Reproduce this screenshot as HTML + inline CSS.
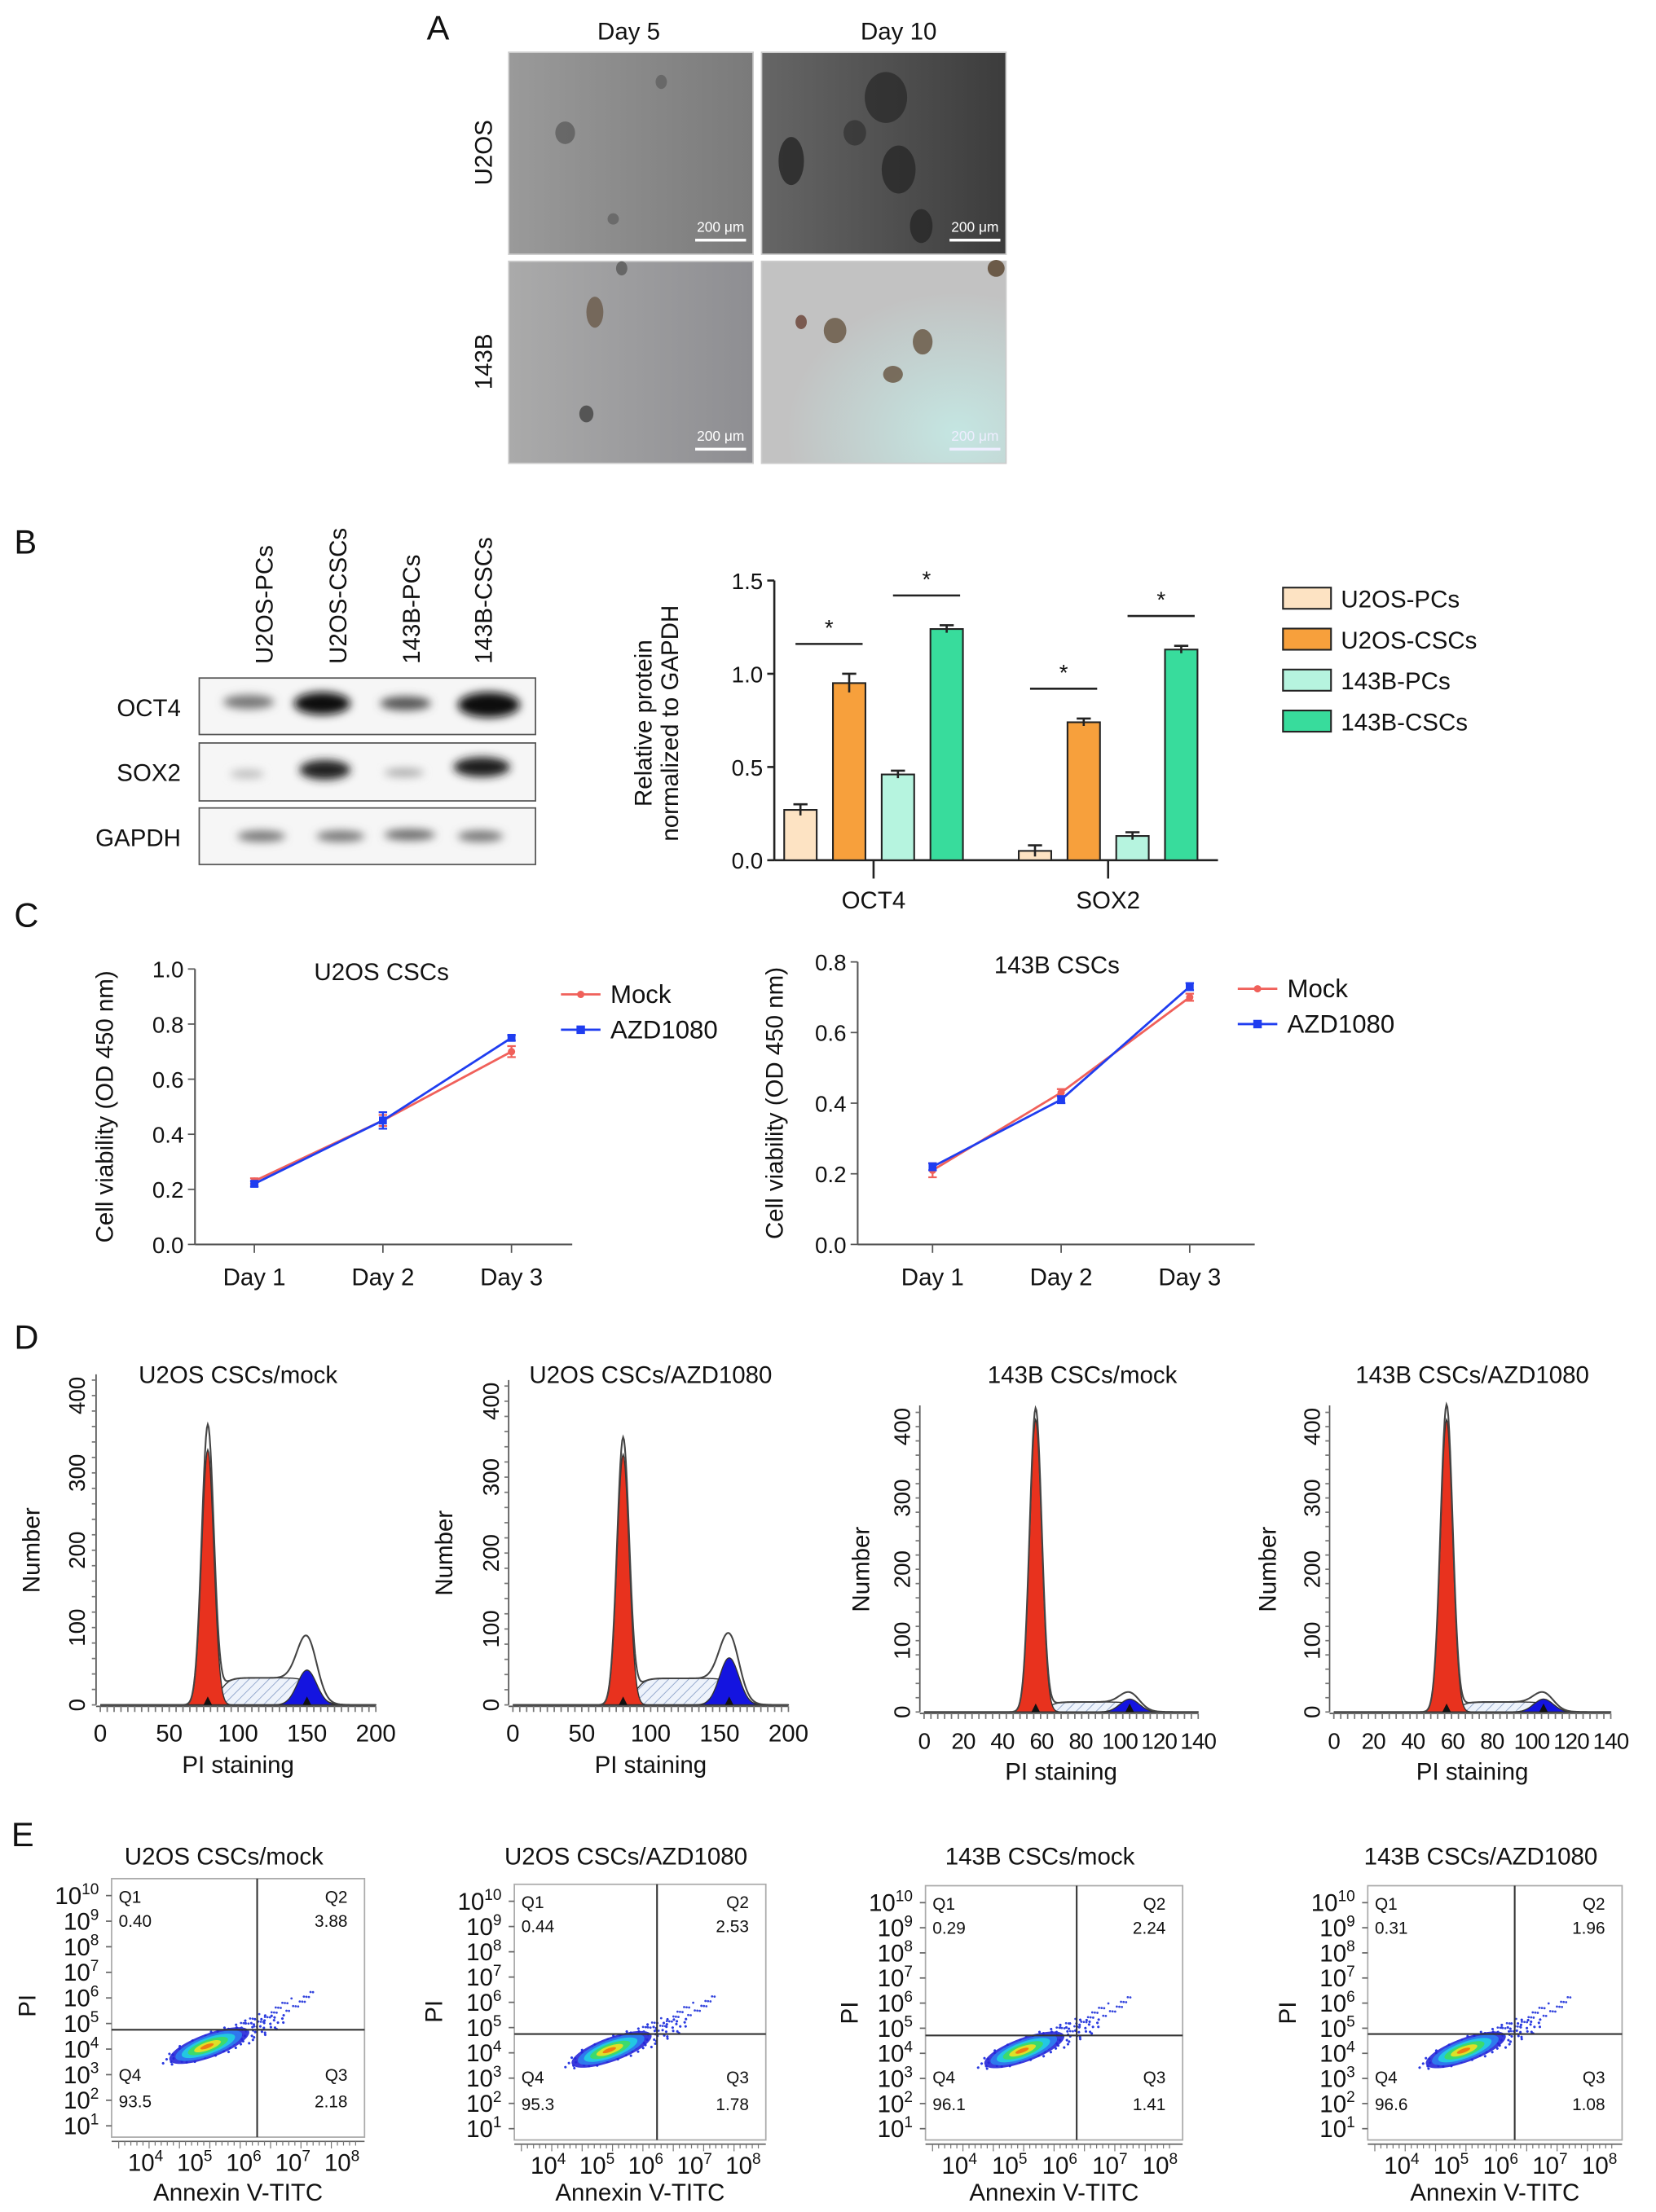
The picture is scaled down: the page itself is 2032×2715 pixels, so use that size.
<!DOCTYPE html>
<html><head><meta charset="utf-8"><style>
html,body{margin:0;padding:0;background:#fff}
svg{display:block}
text{font-family:"Liberation Sans",Arial,sans-serif;fill:#111}
</style></head><body>
<svg id="fig" xmlns="http://www.w3.org/2000/svg" width="2032" height="2715" viewBox="0 0 1172 1566" preserveAspectRatio="none">
<defs>
<linearGradient id="gA1" x1="0" y1="0" x2="1" y2="0"><stop offset="0" stop-color="#9a9a9a"/><stop offset="1" stop-color="#7a7a7a"/></linearGradient>
<linearGradient id="gA2" x1="0" y1="0" x2="1" y2="0"><stop offset="0" stop-color="#666"/><stop offset="1" stop-color="#3c3c3c"/></linearGradient>
<linearGradient id="gA3" x1="0" y1="0" x2="1" y2="0"><stop offset="0" stop-color="#aaa"/><stop offset="1" stop-color="#8e8e92"/></linearGradient>
<radialGradient id="gA4" cx="0.8" cy="0.85" r="0.7"><stop offset="0" stop-color="#c4e6e2"/><stop offset="1" stop-color="#c2c2c2"/></radialGradient>
<pattern id="hatch" width="5" height="5" patternUnits="userSpaceOnUse" patternTransform="rotate(45)"><rect width="5" height="5" fill="#eef3fb"/><line x1="0" y1="0" x2="0" y2="5" stroke="#8aa0c8" stroke-width="1"/></pattern>
<filter id="blur1"><feGaussianBlur stdDeviation="3"/></filter>
</defs>

<!-- Panel A -->
<text x="302" y="28" font-size="24">A</text>
<text x="445" y="28" font-size="17" text-anchor="middle">Day 5</text>
<text x="636" y="28" font-size="17" text-anchor="middle">Day 10</text>
<text transform="translate(348,108) rotate(-90)" font-size="17" text-anchor="middle">U2OS</text>
<text transform="translate(348,256) rotate(-90)" font-size="17" text-anchor="middle">143B</text>
<g>
<rect x="360" y="37" width="173" height="143" fill="url(#gA1)" stroke="#ccc"/>
<ellipse cx="400" cy="94" rx="7" ry="8" fill="#555" opacity="0.7"/><ellipse cx="468" cy="58" rx="4" ry="5" fill="#555" opacity="0.6"/><circle cx="434" cy="155" r="4" fill="#555" opacity="0.6"/>
<text x="510" y="164" font-size="10" text-anchor="middle" style="fill:#fff">200 μm</text><rect x="492" y="169" width="36" height="2" fill="#fff"/>
</g>
<g>
<rect x="539" y="37" width="173" height="143" fill="url(#gA2)" stroke="#ccc"/>
<ellipse cx="627" cy="69" rx="15" ry="18" fill="#2a2a2a" opacity="0.75"/><ellipse cx="560" cy="114" rx="9" ry="17" fill="#222" opacity="0.75"/><ellipse cx="636" cy="120" rx="12" ry="17" fill="#252525" opacity="0.75"/><ellipse cx="605" cy="94" rx="8" ry="9" fill="#303030" opacity="0.7"/><ellipse cx="652" cy="160" rx="8" ry="12" fill="#222" opacity="0.7"/>
<text x="690" y="164" font-size="10" text-anchor="middle" style="fill:#fff">200 μm</text><rect x="672" y="169" width="36" height="2" fill="#fff"/>
</g>
<g>
<rect x="360" y="185" width="173" height="143" fill="url(#gA3)" stroke="#ccc"/>
<ellipse cx="421" cy="221" rx="6" ry="11" fill="#6a5a4a" opacity="0.8"/><ellipse cx="440" cy="190" rx="4" ry="5" fill="#666"/><ellipse cx="415" cy="293" rx="5" ry="6" fill="#555"/>
<text x="510" y="312" font-size="10" text-anchor="middle" style="fill:#fff">200 μm</text><rect x="492" y="317" width="36" height="2" fill="#fff"/>
</g>
<g>
<rect x="539" y="185" width="173" height="143" fill="url(#gA4)" stroke="#ccc"/>
<ellipse cx="591" cy="234" rx="8" ry="9" fill="#6b5a48" opacity="0.85"/><ellipse cx="653" cy="242" rx="7" ry="9" fill="#6b5a48" opacity="0.85"/><ellipse cx="632" cy="265" rx="7" ry="6" fill="#6b5a48" opacity="0.85"/><ellipse cx="567" cy="228" rx="4" ry="5" fill="#7a5a50"/><ellipse cx="705" cy="190" rx="6" ry="6" fill="#6b5a48"/>
<text x="690" y="312" font-size="10" text-anchor="middle" style="fill:#eef">200 μm</text><rect x="672" y="317" width="36" height="2" fill="#eef"/>
</g>

<!-- Panel B blot -->
<text x="10" y="392" font-size="24">B</text>
<g font-size="17">
<text transform="translate(193,470) rotate(-90)">U2OS-PCs</text>
<text transform="translate(245,470) rotate(-90)">U2OS-CSCs</text>
<text transform="translate(297,470) rotate(-90)">143B-PCs</text>
<text transform="translate(348,470) rotate(-90)">143B-CSCs</text>
</g>
<g>
<text x="128" y="507" font-size="17" text-anchor="end">OCT4</text>
<text x="128" y="553" font-size="17" text-anchor="end">SOX2</text>
<text x="128" y="599" font-size="17" text-anchor="end">GAPDH</text>
<rect x="141" y="480" width="238" height="40" fill="#f6f6f6" stroke="#555"/>
<rect x="141" y="526" width="238" height="41" fill="#f6f6f6" stroke="#555"/>
<rect x="141" y="572" width="238" height="40" fill="#f6f6f6" stroke="#555"/>
<g filter="url(#blur1)">
<ellipse cx="176" cy="497" rx="18" ry="5" fill="#777"/><ellipse cx="228" cy="498" rx="20" ry="8" fill="#111"/><ellipse cx="287" cy="498" rx="18" ry="5" fill="#555"/><ellipse cx="346" cy="499" rx="22" ry="9" fill="#111"/>
<ellipse cx="175" cy="548" rx="12" ry="3" fill="#bbb"/><ellipse cx="230" cy="545" rx="18" ry="7" fill="#222"/><ellipse cx="286" cy="547" rx="14" ry="3" fill="#aaa"/><ellipse cx="341" cy="543" rx="20" ry="7" fill="#1a1a1a"/>
<ellipse cx="185" cy="592" rx="17" ry="4" fill="#777"/><ellipse cx="241" cy="592" rx="17" ry="4" fill="#777"/><ellipse cx="290" cy="591" rx="18" ry="4" fill="#6a6a6a"/><ellipse cx="340" cy="592" rx="16" ry="4" fill="#777"/>
</g>
</g>

<g id="barChart"></g>
<text x="10" y="656" font-size="24">C</text>
<g id="lineLeft"></g>
<g id="lineRight"></g>
<text x="10" y="955" font-size="24">D</text>
<g id="histos"></g>
<text x="8" y="1307" font-size="24">E</text>
<g id="scatters"></g>
</svg>

<script>
// ---------- Panel B data ----------
const barCategories = ['OCT4', 'SOX2'];
const barSeriesNames = ['U2OS-PCs', 'U2OS-CSCs', '143B-PCs', '143B-CSCs'];
const barValuesOCT4 = [0.27, 0.95, 0.46, 1.24];
const barValuesSOX2 = [0.05, 0.74, 0.13, 1.13];
const barErrOCT4 = [0.03, 0.05, 0.02, 0.02];
const barErrSOX2 = [0.03, 0.02, 0.02, 0.02];
const barTicks = [0, 0.5, 1.0, 1.5];
// ---------- Panel C data ----------
const days = ['Day 1', 'Day 2', 'Day 3'];
const u2osMock = [0.23, 0.45, 0.70];
const u2osAZD = [0.22, 0.45, 0.75];
const u2osMockErr = [0.01, 0.02, 0.02];
const u2osAZDErr = [0.01, 0.03, 0.01];
const u2osTicks = [0, 0.2, 0.4, 0.6, 0.8, 1.0];
const b143Mock = [0.21, 0.43, 0.70];
const b143AZD = [0.22, 0.41, 0.73];
const b143MockErr = [0.02, 0.01, 0.01];
const b143AZDErr = [0.01, 0.01, 0.01];
const b143Ticks = [0, 0.2, 0.4, 0.6, 0.8];
// ---------- Panel D data ----------
const histTitles = ['U2OS CSCs/mock', 'U2OS CSCs/AZD1080', '143B CSCs/mock', '143B CSCs/AZD1080'];
const histG1Pos = [78, 80, 57, 57];
const histG1Height = [330, 330, 410, 410];
const histG1Peak = [360, 350, 425, 430];
const histG2Pos = [150, 157, 105, 106];
const histG2Height = [45, 62, 18, 18];
const histG2Peak = [95, 100, 30, 30];
const histSHeight = [35, 35, 14, 14];
const histXMax = [200, 200, 140, 140];
const histXTicks200 = [0, 50, 100, 150, 200];
const histXTicks140 = [0, 20, 40, 60, 80, 100, 120, 140];
const histYTicks = [0, 100, 200, 300, 400];
// ---------- Panel E data ----------
const scatTitles = ['U2OS CSCs/mock', 'U2OS CSCs/AZD1080', '143B CSCs/mock', '143B CSCs/AZD1080'];
const q1Vals = ['0.40', '0.44', '0.29', '0.31'];
const q2Vals = ['3.88', '2.53', '2.24', '1.96'];
const q3Vals = ['2.18', '1.78', '1.41', '1.08'];
const q4Vals = ['93.5', '95.3', '96.1', '96.6'];
const logTicksY = [1, 2, 3, 4, 5, 6, 7, 8, 9, 10];
const logTicksX = [4, 5, 6, 7, 8];

const NS = 'http://www.w3.org/2000/svg';
function mk(tag, attrs, parent) {
  const e = document.createElementNS(NS, tag);
  for (const k in attrs) e.setAttribute(k, attrs[k]);
  parent.appendChild(e);
  return e;
}
function txt(s, attrs, parent) { const t = mk('text', attrs, parent); t.textContent = s; return t; }

// ===== Bar chart =====
(function () {
  const g = document.getElementById('barChart');
  const ax = 548, y0 = 609, y15 = 411;
  const ys = v => y0 - (v / 1.5) * (y0 - y15);
  const colors = ['#fde3c3', '#f7a03c', '#b6f4df', '#38dc9c'];
  const groupStart = [555, 721];
  const step = 34.5, bw = 23;
  const a = mk('line', { x1: ax, y1: y15, x2: ax, y2: y0, stroke: '#222', 'stroke-width': 1.5 }, g);
  
  
  const xa = mk('line', { x1: ax, y1: y0, x2: 862, y2: y0, stroke: '#222', 'stroke-width': 1.5 }, g);
  
  
  barTicks.forEach(t => {
    mk('line', { x1: ax - 5, y1: ys(t), x2: ax, y2: ys(t), stroke: '#222', 'stroke-width': 1.5 }, g);
    const tl = txt(t.toFixed(1), { x: ax - 8, y: ys(t) + 6, 'font-size': 16, 'text-anchor': 'end' }, g);
    
    
  });
  const yl = txt('Relative protein', { transform: 'translate(461,512) rotate(-90)', 'font-size': 17, 'text-anchor': 'middle' }, g);
  
  
  const yl2 = txt('normalized to GAPDH', { transform: 'translate(480,512) rotate(-90)', 'font-size': 17, 'text-anchor': 'middle' }, g);
  
  
  const vals = [barValuesOCT4, barValuesSOX2], errs = [barErrOCT4, barErrSOX2];
  barCategories.forEach((c, ci) => {
    const cx = groupStart[ci] + 1.5 * step + bw / 2;
    mk('line', { x1: cx, y1: y0, x2: cx, y2: y0 + 13, stroke: '#222', 'stroke-width': 1.5 }, g);
    const cl = txt(c, { x: cx, y: 643, 'font-size': 17, 'text-anchor': 'middle' }, g);
    
    
    vals[ci].forEach((v, si) => {
      const x = groupStart[ci] + si * step;
      const r = mk('rect', { x: x, y: ys(v), width: bw, height: y0 - ys(v), fill: colors[si], stroke: '#222', 'stroke-width': 1.2 }, g);
      
      
      const e = errs[ci][si], mx = x + bw / 2;
      mk('path', { d: `M${mx},${ys(v + e)}V${ys(v - e)}M${mx - 5},${ys(v + e)}H${mx + 5}`, stroke: '#222', 'stroke-width': 1.5, fill: 'none' }, g);
    });
    [[0, 1], [2, 3]].forEach(pair => {
      const top = Math.max(vals[ci][pair[0]], vals[ci][pair[1]]) + errs[ci][pair[1]];
      const yy = ys(top + 0.16);
      const x1 = groupStart[ci] + pair[0] * step + 8, x2 = groupStart[ci] + pair[1] * step + bw - 2;
      const sl = mk('line', { x1: x1, y1: yy, x2: x2, y2: yy, stroke: '#222', 'stroke-width': 1.5 }, g);
      
      
      txt('*', { x: (x1 + x2) / 2, y: yy - 6, 'font-size': 16, 'text-anchor': 'middle' }, g);
    });
  });
  barSeriesNames.forEach((n, i) => {
    const y = 424 + i * 29;
    const sw = mk('rect', { x: 908, y: y - 8, width: 34, height: 15, fill: colors[i], stroke: '#222', 'stroke-width': 1.2 }, g);
    
    
    const lt = txt(n, { x: 949, y: y + 6, 'font-size': 17 }, g);
    
    
  });
})();

// ===== Line charts =====
function lineChart(gid, cfg) {
  const g = document.getElementById(gid);
  const ys = v => cfg.y0 - (v / cfg.ymax) * (cfg.y0 - cfg.ytop);
  const xs = i => cfg.xd[0] + i * (cfg.xd[1] - cfg.xd[0]) / 2;
  const ay = mk('line', { x1: cfg.ax, y1: cfg.ytop, x2: cfg.ax, y2: cfg.y0, stroke: '#555', 'stroke-width': 1.2 }, g);
  
  
  const axx = mk('line', { x1: cfg.ax, y1: cfg.y0, x2: cfg.xend, y2: cfg.y0, stroke: '#555', 'stroke-width': 1.2 }, g);
  
  
  cfg.ticks.forEach(t => {
    mk('line', { x1: cfg.ax - 5, y1: ys(t), x2: cfg.ax, y2: ys(t), stroke: '#555' }, g);
    const tl = txt(t.toFixed(1), { x: cfg.ax - 8, y: ys(t) + 6, 'font-size': 16, 'text-anchor': 'end' }, g);
    
    
  });
  days.forEach((d, i) => {
    mk('line', { x1: xs(i), y1: cfg.y0, x2: xs(i), y2: cfg.y0 + 6, stroke: '#555' }, g);
    const dl = txt(d, { x: xs(i), y: cfg.y0 + 29, 'font-size': 17, 'text-anchor': 'middle' }, g);
    
    
  });
  const tt = txt(cfg.title, { x: cfg.titleX, y: cfg.ytop + 8, 'font-size': 17, 'text-anchor': 'middle' }, g);
  
  
  const yt = txt('Cell viability (OD 450 nm)', { transform: `translate(${cfg.ylabX},${(cfg.y0 + cfg.ytop) / 2}) rotate(-90)`, 'font-size': 17, 'text-anchor': 'middle' }, g);
  
  
  const series = [[cfg.mock, cfg.mockErr, '#f0605a', 'mock'], [cfg.azd, cfg.azdErr, '#1f3df0', 'azd1080']];
  series.forEach(([vals, err, col, nm]) => {
    const pl = mk('polyline', { points: vals.map((v, i) => xs(i) + ',' + ys(v)).join(' '), fill: 'none', stroke: col, 'stroke-width': 1.6 }, g);
    
    
    vals.forEach((v, i) => {
      mk('path', { d: `M${xs(i)},${ys(v + err[i])}V${ys(v - err[i])}M${xs(i) - 3},${ys(v + err[i])}h6M${xs(i) - 3},${ys(v - err[i])}h6`, stroke: col, 'stroke-width': 1.3 }, g);
      if (nm === 'mock') {
        const p = mk('circle', { cx: xs(i), cy: ys(v), r: 2.6, fill: col }, g);
        
        
      } else {
        const p = mk('rect', { x: xs(i) - 2.8, y: ys(v) - 2.8, width: 5.6, height: 5.6, fill: col }, g);
        
        
      }
    });
  });
  [['Mock', '#f0605a', 0], ['AZD1080', '#1f3df0', 1]].forEach(([n, c, i]) => {
    const y = cfg.legY + i * 25;
    mk('line', { x1: cfg.legX, y1: y, x2: cfg.legX + 28, y2: y, stroke: c, 'stroke-width': 1.6 }, g);
    if (i === 0) mk('circle', { cx: cfg.legX + 14, cy: y, r: 2.6, fill: c }, g);
    else mk('rect', { x: cfg.legX + 11, y: y - 3, width: 6, height: 6, fill: c }, g);
    const lt = txt(n, { x: cfg.legX + 35, y: y + 6, 'font-size': 18 }, g);
    
    
  });
}
lineChart('lineLeft', { ax: 138, y0: 881, ytop: 686, ymax: 1.0, xend: 405, xd: [180, 362], ticks: u2osTicks, mock: u2osMock, azd: u2osAZD, mockErr: u2osMockErr, azdErr: u2osAZDErr, title: 'U2OS CSCs', titleX: 270, ylabX: 80, legX: 397, legY: 704 });
lineChart('lineRight', { ax: 607, y0: 881, ytop: 681, ymax: 0.8, xend: 888, xd: [660, 842], ticks: b143Ticks, mock: b143Mock, azd: b143AZD, mockErr: b143MockErr, azdErr: b143AZDErr, title: '143B CSCs', titleX: 748, ylabX: 554, legX: 876, legY: 700 });

// ===== Histograms =====
(function () {
  const g = document.getElementById('histos');
  const lay = [
    { x0: 71, w: 195, y0: 1207, y400: 988, ylabX: 28, tickX: 54 },
    { x0: 363, w: 195, y0: 1207, y400: 992, ylabX: 320, tickX: 347 },
    { x0: 654, w: 194, y0: 1212, y400: 1010, ylabX: 615, tickX: 638 },
    { x0: 944, w: 196, y0: 1212, y400: 1010, ylabX: 903, tickX: 928 }
  ];
  const gauss = (x, m, s) => Math.exp(-0.5 * ((x - m) / s) ** 2);
  lay.forEach((L, k) => {
    const xmax = histXMax[k];
    const xs = v => L.x0 + v / xmax * L.w;
    const ys = v => L.y0 - v / 400 * (L.y0 - L.y400);
    const s1 = xmax * 0.022, s2 = xmax * 0.035;
    const g1 = x => histG1Height[k] * gauss(x, histG1Pos[k], s1);
    const g2 = x => histG2Height[k] * gauss(x, histG2Pos[k], s2);
    const sph = x => histSHeight[k] * (1 / (1 + Math.exp(-(x - histG1Pos[k] - 2 * s1) / (s1 * 0.8)))) * (1 / (1 + Math.exp((x - histG2Pos[k] - s2) / (s2 * 0.6))));
    const outl = x => g1(x) * histG1Peak[k] / histG1Height[k] + sph(x) + g2(x) * (histG2Peak[k] - histSHeight[k]) / histG2Height[k];
    const N = 300;
    let pS = `M${xs(0)},${ys(0)}`, p1 = `M${xs(0)},${ys(0)}`, p2 = `M${xs(0)},${ys(0)}`, po = '';
    for (let i = 0; i <= N; i++) {
      const x = i / N * xmax;
      pS += `L${xs(x)},${ys(sph(x))}`;
      p1 += `L${xs(x)},${ys(g1(x))}`;
      p2 += `L${xs(x)},${ys(g2(x))}`;
      po += (i ? 'L' : 'M') + xs(x) + ',' + ys(outl(x));
    }
    pS += `L${xs(xmax)},${ys(0)}Z`; p1 += `L${xs(xmax)},${ys(0)}Z`; p2 += `L${xs(xmax)},${ys(0)}Z`;
    const a = mk('path', { d: pS, fill: 'url(#hatch)', stroke: '#333', 'stroke-width': 0.8 }, g);
    
    
    const b = mk('path', { d: p1, fill: '#e8321e', stroke: '#333', 'stroke-width': 0.8 }, g);
    
    
    const c = mk('path', { d: p2, fill: '#1414e0', stroke: '#333', 'stroke-width': 0.8 }, g);
    
    
    const o = mk('path', { d: po, fill: 'none', stroke: '#444', 'stroke-width': 1.2 }, g);
    
    
    [histG1Pos[k], histG2Pos[k]].forEach(m => mk('path', { d: `M${xs(m)},${L.y0 - 6}l-3,6h6z`, fill: '#111' }, g));
    mk('line', { x1: L.x0 - 3, y1: L.y0, x2: L.x0 - 3, y2: L.y400 - 15, stroke: '#555' }, g);
    mk('line', { x1: L.x0 - 3, y1: L.y0 + 1, x2: L.x0 + L.w, y2: L.y0 + 1, stroke: '#555' }, g);
    for (let v = 0; v <= 420; v += 20) mk('line', { x1: L.x0 - 6, y1: ys(v), x2: L.x0 - 3, y2: ys(v), stroke: '#777' }, g);
    histYTicks.forEach(t => {
      const tl = txt(String(t), { transform: `translate(${L.tickX + 6},${ys(t)}) rotate(-90)`, 'font-size': 16, 'text-anchor': 'middle' }, g);
      
      
    });
    const xt = xmax === 200 ? histXTicks200 : histXTicks140;
    for (let v = 0; v <= xmax; v += xmax / 40) mk('line', { x1: xs(v), y1: L.y0 + 1, x2: xs(v), y2: L.y0 + 5, stroke: '#777' }, g);
    xt.forEach(t => {
      const tl = txt(String(t), { x: xs(t), y: L.y0 + 26, 'font-size': xmax === 200 ? 17 : 16, 'text-anchor': 'middle', 'letter-spacing': xmax === 200 ? 0 : -0.5 }, g);
      
      
    });
    const xl = txt('PI staining', { x: L.x0 + L.w / 2, y: L.y0 + 48, 'font-size': 17, 'text-anchor': 'middle' }, g);
    
    
    const yl = txt('Number', { transform: `translate(${L.ylabX},${(L.y0 + L.y400) / 2}) rotate(-90)`, 'font-size': 17, 'text-anchor': 'middle' }, g);
    
    
    const tt = txt(histTitles[k], { x: L.x0 + L.w / 2 + (k === 2 ? 15 : 0), y: 979, 'font-size': 17, 'text-anchor': 'middle' }, g);
    
    
  });
})();

// ===== Scatter plots =====
(function () {
  const g = document.getElementById('scatters');
  const lay = [
    { bx: 79, bw: 179, by: 1330, bh: 183, vx: 182, hy: 1437, plX: 22 },
    { bx: 364, bw: 178, by: 1334, bh: 181, vx: 465, hy: 1440, plX: 310 },
    { bx: 655, bw: 182, by: 1335, bh: 180, vx: 762, hy: 1441, plX: 604 },
    { bx: 968, bw: 180, by: 1335, bh: 180, vx: 1072, hy: 1440, plX: 914 }
  ];
  const dens = ['#2626d8', '#2f7ff0', '#22d0e0', '#3fdc60', '#f0e020', '#f07010'];
  lay.forEach((L, k) => {
    const ys = e => L.by + L.bh - 8 - (e - 1) / 9 * (L.bh - 20);
    const xs = e => L.bx + 29 + (e - 4) / 4 * (L.bw - 40);
    const box = mk('rect', { x: L.bx, y: L.by, width: L.bw, height: L.bh, fill: '#fff', stroke: '#aaa' }, g);
    
    
    const cx = xs(5.1), cy = ys(4.1);
    const cl = mk('g', { transform: `translate(${cx},${cy}) rotate(-20)` }, g);
    
    
    for (let i = 0; i < 110; i++) {
      const t = i * 2.39996, r = Math.sqrt(i / 110);
      mk('circle', { cx: 48 * r * Math.cos(t) + 14, cy: 9 * r * Math.sin(t), r: 0.9, fill: '#2a3ae0' }, cl);
    }
    dens.forEach((c, i) => {
      const f = 1 - i / dens.length;
      mk('ellipse', { cx: 2 * f, cy: 0, rx: 30 * f, ry: 8.5 * f, fill: c, opacity: 0.9 }, cl);
    });
    for (let i = 0; i < 40; i++) {
      const t = (i * 0.618) % 1;
      mk('circle', { cx: xs(5.8 + t * 1.5), cy: ys(4.8 + t * 1.4) + ((i * 7) % 9 - 4), r: 0.8, fill: '#3344dd' }, g);
    }
    const v = mk('line', { x1: L.vx, y1: L.by, x2: L.vx, y2: L.by + L.bh, stroke: '#333', 'stroke-width': 1.2 }, g);
    
    
    const h = mk('line', { x1: L.bx, y1: L.hy, x2: L.bx + L.bw, y2: L.hy, stroke: '#333', 'stroke-width': 1.2 }, g);
    
    
    const q = [['Q1', L.bx + 5, L.by + 17, 'start'], [q1Vals[k], L.bx + 5, L.by + 34, 'start'],
               ['Q2', L.bx + L.bw - 12, L.by + 17, 'end'], [q2Vals[k], L.bx + L.bw - 12, L.by + 34, 'end'],
               ['Q4', L.bx + 5, L.by + L.bh - 40, 'start'], [q4Vals[k], L.bx + 5, L.by + L.bh - 21, 'start'],
               ['Q3', L.bx + L.bw - 12, L.by + L.bh - 40, 'end'], [q3Vals[k], L.bx + L.bw - 12, L.by + L.bh - 21, 'end']];
    q.forEach(([s, x, y, an]) => {
      const t = txt(s, { x: x, y: y, 'font-size': 12, 'text-anchor': an }, g);
      
      
    });
    logTicksY.forEach(e => {
      const t = mk('text', { x: L.bx - 9, y: ys(e) + 6, 'font-size': 17, 'text-anchor': 'end' }, g);
      
      
      t.textContent = '10';
      const sp = mk('tspan', { dy: -7, 'font-size': 11 }, t);
      sp.textContent = String(e);
      mk('line', { x1: L.bx - 4, y1: ys(e), x2: L.bx, y2: ys(e), stroke: '#666' }, g);
    });
    mk('line', { x1: L.bx, y1: L.by + L.bh + 3, x2: L.bx + L.bw, y2: L.by + L.bh + 3, stroke: '#666' }, g);
    for (let i = 0; i < 40; i++) mk('line', { x1: L.bx + 5 + i * 4.3, y1: L.by + L.bh + 3, x2: L.bx + 5 + i * 4.3, y2: L.by + L.bh + (i % 5 ? 6 : 8), stroke: '#777', 'stroke-width': 0.7 }, g);
    logTicksX.forEach(e => {
      const t = mk('text', { x: xs(e) - 5, y: L.by + L.bh + 24, 'font-size': 17, 'text-anchor': 'middle' }, g);
      
      
      t.textContent = '10';
      const sp = mk('tspan', { dy: -7, 'font-size': 11 }, t);
      sp.textContent = String(e);
    });
    const xl = txt('Annexin V-TITC', { x: L.bx + L.bw / 2, y: 1558, 'font-size': 17, 'text-anchor': 'middle' }, g);
    
    
    const yl = txt('PI', { transform: `translate(${L.plX + 3},${L.by + 90}) rotate(-90)`, 'font-size': 17, 'text-anchor': 'middle' }, g);
    
    
    const tt = txt(scatTitles[k], { x: L.bx + L.bw / 2 - 10, y: 1320, 'font-size': 17, 'text-anchor': 'middle' }, g);
    
    
  });
})();
</script>
</body></html>
